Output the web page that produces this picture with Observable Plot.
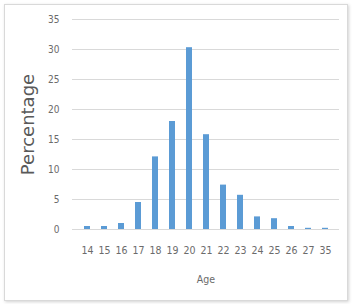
<!DOCTYPE html>
<html>
<head>
<meta charset="utf-8">
<script src="https://cdn.jsdelivr.net/npm/d3@7"></script>
<script src="https://cdn.jsdelivr.net/npm/@observablehq/plot@0.6"></script>
<style>
  html, body { margin: 0; padding: 0; background: #fff; }
  #frame { position: absolute; left: 4px; top: 4px; width: 342px; height: 295px;
           border: 1px solid #d9d9d9; box-shadow: 1px 1px 3px rgba(0,0,0,0.18); }
  #chart { position: absolute; left: 0; top: 0; }
</style>
</head>
<body>
<div id="frame"></div>
<div id="chart"></div>
<script>
const ages = ["14","15","16","17","18","19","20","21","22","23","24","25","26","27","35"];
const percentages = [0.5, 0.5, 1.0, 4.5, 12.1, 18.0, 30.3, 15.8, 7.4, 5.7, 2.1, 1.8, 0.5, 0.2, 0.2];
const yTicks = [0, 5, 10, 15, 20, 25, 30, 35];
const xTitle = "Age";
const yTitle = "Percentage";

const data = ages.map((a, i) => ({age: a, pct: percentages[i]}));
const font = "'Liberation Sans Narrow', 'DejaVu Sans Condensed', sans-serif";

const chart = Plot.plot({
  width: 352,
  height: 304,
  marginLeft: 72,
  marginRight: 13,
  marginTop: 19,
  marginBottom: 75,
  style: {fontFamily: font, background: "transparent"},
  x: {domain: ages, paddingInner: 0.66, paddingOuter: 0.33, label: null},
  y: {domain: [0, 35], label: null},
  marks: [
    Plot.gridY(yTicks, {stroke: "#d9d9d9", strokeOpacity: 1, strokeWidth: 1}),
    Plot.barY(data, {x: "age", y: "pct", fill: "#5b9bd5"}),
    Plot.axisY(yTicks, {tickSize: 0, tickPadding: 13, fontSize: 10, fill: "#6b6b6b", label: null}),
    Plot.axisX({tickSize: 0, tickPadding: 17, fontSize: 10.5, fill: "#6b6b6b", label: null}),
    Plot.text([yTitle], {frameAnchor: "left", textAnchor: "middle", lineAnchor: "middle", rotate: -90, dx: -44, fontSize: 18, fill: "#595959",
      fontFamily: "'DejaVu Sans', sans-serif"}),
    Plot.text([xTitle], {frameAnchor: "bottom", dy: 53, fontSize: 10.5, fill: "#6b6b6b"})
  ]
});
document.getElementById("chart").appendChild(chart);
</script>
</body>
</html>
